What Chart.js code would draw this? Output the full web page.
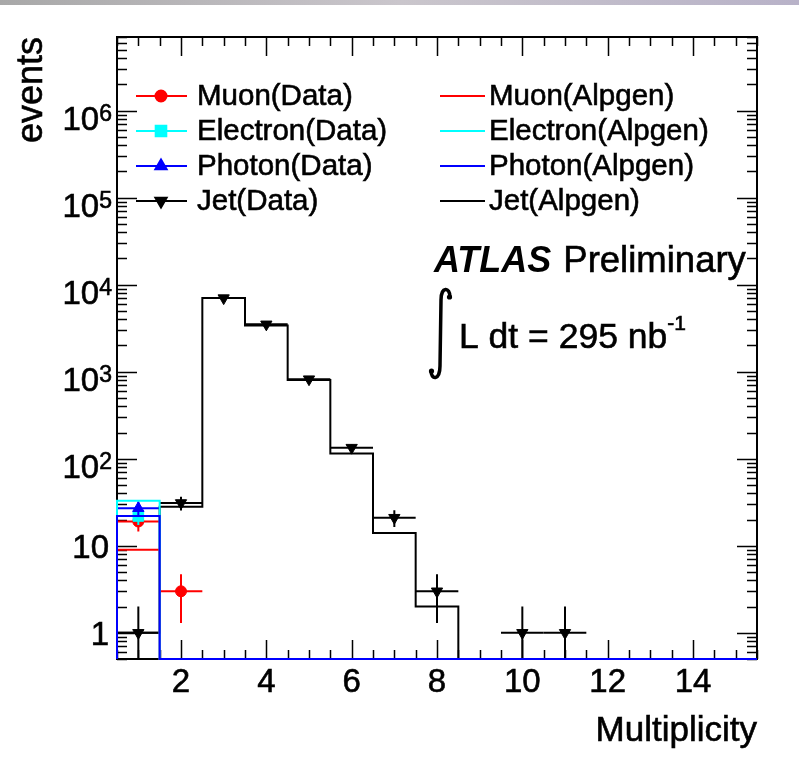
<!DOCTYPE html>
<html>
<head>
<meta charset="utf-8">
<script src="https://cdn.jsdelivr.net/npm/chart.js@4.4.1/dist/chart.umd.min.js"></script>
<style>
  html, body { margin: 0; padding: 0; background: #fff; }
  #strip { position: absolute; left: 0; top: 0; width: 799px; height: 5px;
           background: linear-gradient(to right, #a8a8a8, #cac6cc 50%, #b8b2c8); }
  #c { display: block; }
</style>
</head>
<body>
<div id="strip"></div>
<canvas id="c" width="799" height="758"></canvas>
<script>
// multiplicity bins (centres), width 1
var bins = [1, 2, 3, 4, 5, 6, 7, 8, 9, 10, 11, 12, 13, 14, 15];

// Alpgen predictions per bin
var jetAlpgen      = [1, 28, 7000, 3400, 800, 115, 14, 2, 0, 0, 0, 0, 0, 0, 0];
var muonAlpgen     = [9, 0, 0, 0, 0, 0, 0, 0, 0, 0, 0, 0, 0, 0, 0];
var electronAlpgen = [33, 0, 0, 0, 0, 0, 0, 0, 0, 0, 0, 0, 0, 0, 0];
var photonAlpgen   = [22, 0, 0, 0, 0, 0, 0, 0, 0, 0, 0, 0, 0, 0, 0];

// data points (only non-empty bins)
var jetDataX   = [1, 2, 3, 4, 5, 6, 7, 8, 10, 11];
var jetData    = [1, 31, 7000, 3500, 820, 134, 21, 3, 1, 1];
var jetErr     = [1, 5.6, 84, 59, 29, 11.6, 4.6, 1.7, 1, 1];
var muonDataX  = [1, 2];
var muonData   = [19, 3];
var muonErr    = [4.4, 1.7];
var electronDataX = [1];
var electronData  = [22];
var electronErr   = [4.7];
var photonDataX = [1];
var photonData  = [27];
var photonErr   = [5.2];

// axes
var xMin = 0.5, xMax = 15.5;
var yMin = 0.5, yMax = 7e6;
var xTickValues = [2, 4, 6, 8, 10, 12, 14];
var yTickValues = [1, 10, 100, 1e3, 1e4, 1e5, 1e6];
var yTickBase   = ['1', '10', '10', '10', '10', '10', '10'];
var yTickExp    = ['', '', '2', '3', '4', '5', '6'];

var dataLabels   = ['Muon(Data)', 'Electron(Data)', 'Photon(Data)', 'Jet(Data)'];
var alpgenLabels = ['Muon(Alpgen)', 'Electron(Alpgen)', 'Photon(Alpgen)', 'Jet(Alpgen)'];
var colors = ['#ff0000', '#00ffff', '#0000ff', '#000000'];
var markers = [
  {pointStyle: 'circle', radius: 5.5, rotation: 0},
  {pointStyle: 'rect', radius: 7.5, rotation: 0},
  {pointStyle: 'triangle', radius: 6.5, rotation: 0},
  {pointStyle: 'triangle', radius: 6.5, rotation: 180}
];

var FONT = '"Liberation Sans", Arial, Helvetica, sans-serif';

function stepPoints(values) {
  var pts = [{x: bins[0] - 0.5, y: yMin}];
  values.forEach(function(v, i) {
    var y = v > 0 ? v : yMin;
    pts.push({x: bins[i] - 0.5, y: y});
    pts.push({x: bins[i] + 0.5, y: y});
  });
  pts.push({x: bins[bins.length - 1] + 0.5, y: yMin});
  return pts;
}

function points(xs, ys) {
  return xs.map(function(x, i) { return {x: x, y: ys[i]}; });
}

function histDataset(label, values, color, order) {
  return {
    label: label,
    data: stepPoints(values),
    showLine: true,
    borderColor: color,
    borderWidth: 2,
    pointRadius: 0,
    fill: false,
    tension: 0,
    clip: {left: 2, top: 0, right: 2, bottom: 3},
    order: order
  };
}

function dataDataset(label, xs, ys, errs, idx, order) {
  var m = markers[idx];
  return {
    label: label,
    data: points(xs, ys),
    errors: errs,
    showLine: false,
    borderColor: colors[idx],
    backgroundColor: colors[idx],
    pointStyle: m.pointStyle,
    pointRadius: m.radius,
    pointRotation: m.rotation,
    pointBorderWidth: 1,
    clip: false,
    order: order
  };
}

// slightly heavier text, like the original rendering
function text(ctx, s, x, y) {
  ctx.fillText(s, x, y);
  ctx.lineWidth = 0.6;
  ctx.strokeStyle = ctx.fillStyle;
  ctx.strokeText(s, x, y);
}

// draw error bars just before the markers of each data set
var errorBars = {
  id: 'errorBars',
  beforeDatasetDraw: function(chart, args) {
    var ds = chart.data.datasets[args.index];
    if (!ds.errors) return;
    var xs = chart.scales.x, ys = chart.scales.y, a = chart.chartArea, ctx = chart.ctx;
    ctx.save();
    ctx.beginPath();
    ctx.rect(a.left, a.top, a.right - a.left, a.bottom - a.top + 1);
    ctx.clip();
    ctx.strokeStyle = ds.borderColor;
    ctx.lineWidth = 2;
    ds.data.forEach(function(p, i) {
      var e = ds.errors[i];
      var px = xs.getPixelForValue(p.x), py = ys.getPixelForValue(p.y);
      var lo = p.y - e;
      var pyLo = lo > yMin ? ys.getPixelForValue(lo) : a.bottom + 2;
      var pyHi = ys.getPixelForValue(p.y + e);
      ctx.beginPath();
      ctx.moveTo(xs.getPixelForValue(p.x - 0.5), py);
      ctx.lineTo(xs.getPixelForValue(p.x + 0.5), py);
      ctx.moveTo(px, pyHi);
      ctx.lineTo(px, pyLo);
      ctx.stroke();
    });
    ctx.restore();
  }
};

// ROOT-like frame, ticks and labels
var frame = {
  id: 'frame',
  beforeDatasetsDraw: function(chart) {
    var ctx = chart.ctx, a = chart.chartArea, xs = chart.scales.x, ys = chart.scales.y;
    ctx.save();
    ctx.strokeStyle = '#000';
    ctx.lineWidth = 2;
    ctx.strokeRect(a.left, a.top, a.right - a.left, a.bottom - a.top);

    ctx.lineWidth = 1.5;
    ctx.beginPath();
    // x ticks every 0.5, long at even numbers
    for (var v = xMin; v <= xMax + 1e-9; v += 0.5) {
      var px = Math.round(xs.getPixelForValue(v)) + 0.5;
      var len = (Math.abs(v % 2) < 1e-9) ? 19 : 9;
      ctx.moveTo(px, a.bottom); ctx.lineTo(px, a.bottom - len);
      ctx.moveTo(px, a.top); ctx.lineTo(px, a.top + len);
    }
    // y log ticks
    for (var d = -1; d <= 6; d++) {
      for (var k = 1; k <= 9; k++) {
        var val = k * Math.pow(10, d);
        if (val < yMin || val > yMax) continue;
        var py = Math.round(ys.getPixelForValue(val)) + 0.5;
        var l = (k === 1) ? 20 : 10;
        ctx.moveTo(a.left, py); ctx.lineTo(a.left + l, py);
        ctx.moveTo(a.right, py); ctx.lineTo(a.right - l, py);
      }
    }
    ctx.stroke();

    // tick labels
    ctx.fillStyle = '#000';
    ctx.font = '33px ' + FONT;
    ctx.textAlign = 'center';
    ctx.textBaseline = 'alphabetic';
    xTickValues.forEach(function(v) {
      text(ctx, String(v), xs.getPixelForValue(v), 692);
    });
    yTickValues.forEach(function(v, i) {
      var py = ys.getPixelForValue(v);
      if (!yTickExp[i]) {
        ctx.font = '33px ' + FONT;
        ctx.textAlign = 'right';
        text(ctx, yTickBase[i], 109, py + 12);
      } else {
        ctx.font = '23px ' + FONT;
        ctx.textAlign = 'right';
        text(ctx, yTickExp[i], 112, py + 10);
        var ew = ctx.measureText(yTickExp[i]).width;
        ctx.font = '33px ' + FONT;
        text(ctx, yTickBase[i], 112 - ew, py + 19);
      }
    });

    // axis titles
    ctx.font = '35px ' + FONT;
    ctx.textAlign = 'right';
    text(ctx, 'Multiplicity', a.right, 741);
    ctx.save();
    ctx.translate(42, a.top);
    ctx.rotate(-Math.PI / 2);
    ctx.font = '36px ' + FONT;
    text(ctx, 'events', 0, 0);
    ctx.restore();
    ctx.restore();
  },
  afterDatasetsDraw: function(chart) {
    var ctx = chart.ctx;
    ctx.save();
    ctx.font = '29.5px ' + FONT;
    ctx.textAlign = 'left';
    ctx.textBaseline = 'middle';
    var rowY = [96, 131, 166, 201];
    dataLabels.forEach(function(t, i) {
      ctx.strokeStyle = colors[i];
      ctx.fillStyle = colors[i];
      ctx.lineWidth = 2;
      ctx.beginPath();
      ctx.moveTo(136, rowY[i]); ctx.lineTo(187, rowY[i]);
      ctx.stroke();
      Chart.helpers.drawPoint(ctx, {pointStyle: markers[i].pointStyle, radius: markers[i].radius,
        rotation: markers[i].rotation, borderWidth: 1}, 161, rowY[i]);
      ctx.fill();
      ctx.fillStyle = '#000';
      text(ctx, t, 197, rowY[i] + 1);
    });
    alpgenLabels.forEach(function(t, i) {
      ctx.strokeStyle = colors[i];
      ctx.lineWidth = 2;
      ctx.beginPath();
      ctx.moveTo(440, rowY[i]); ctx.lineTo(485, rowY[i]);
      ctx.stroke();
      ctx.fillStyle = '#000';
      text(ctx, t, 489, rowY[i] + 1);
    });

    // ATLAS label
    ctx.textBaseline = 'alphabetic';
    ctx.font = 'italic bold 36px ' + FONT;
    ctx.fillText('ATLAS', 434, 272);
    var w = ctx.measureText('ATLAS').width;
    ctx.font = '36.5px ' + FONT;
    text(ctx, 'Preliminary', 434 + w + 12, 272);

    // integral sign
    ctx.strokeStyle = '#000';
    ctx.lineWidth = 3.5;
    ctx.lineCap = 'round';
    ctx.beginPath();
    ctx.moveTo(450, 297);
    ctx.bezierCurveTo(450, 287, 441, 286, 441, 300);
    ctx.lineTo(440, 366);
    ctx.bezierCurveTo(440, 381, 431, 380, 431, 371);
    ctx.stroke();
    ctx.fillStyle = '#000';
    ctx.beginPath(); ctx.arc(449.5, 297, 2.6, 0, Math.PI * 2); ctx.fill();
    ctx.beginPath(); ctx.arc(431.5, 371, 2.6, 0, Math.PI * 2); ctx.fill();

    ctx.font = '35.5px ' + FONT;
    text(ctx, 'L dt = 295 nb', 459, 348);
    var w2 = ctx.measureText('L dt = 295 nb').width;
    ctx.font = '21px ' + FONT;
    text(ctx, '-1', 459 + w2, 330);
    ctx.restore();
  }
};

var ctxEl = document.getElementById('c').getContext('2d');
new Chart(ctxEl, {
  type: 'scatter',
  data: {
    datasets: [
      histDataset('Photon(Alpgen)', photonAlpgen, colors[2], 1),
      histDataset('Electron(Alpgen)', electronAlpgen, colors[1], 2),
      histDataset('Muon(Alpgen)', muonAlpgen, colors[0], 3),
      histDataset('Jet(Alpgen)', jetAlpgen, colors[3], 4),
      dataDataset('Jet(Data)', jetDataX, jetData, jetErr, 3, 5),
      dataDataset('Photon(Data)', photonDataX, photonData, photonErr, 2, 6),
      dataDataset('Electron(Data)', electronDataX, electronData, electronErr, 1, 7),
      dataDataset('Muon(Data)', muonDataX, muonData, muonErr, 0, 8)
    ]
  },
  options: {
    responsive: false,
    animation: false,
    events: [],
    layout: { padding: { left: 117, top: 37, right: 42, bottom: 99 } },
    scales: {
      x: { type: 'linear', min: xMin, max: xMax, display: false },
      y: { type: 'logarithmic', min: yMin, max: yMax, display: false }
    },
    plugins: {
      legend: { display: false },
      tooltip: { enabled: false }
    }
  },
  plugins: [errorBars, frame]
});
</script>
</body>
</html>
